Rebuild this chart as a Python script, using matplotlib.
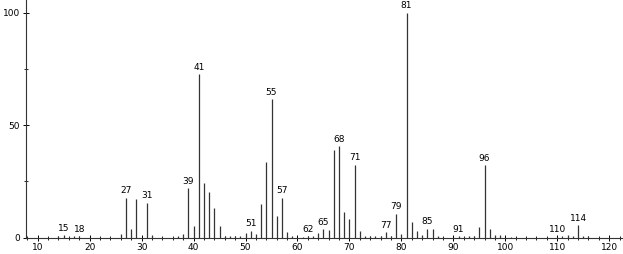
import matplotlib
matplotlib.use("Agg")
import matplotlib.pyplot as plt
from matplotlib.ticker import MultipleLocator

mz = [14, 15, 17, 18, 26, 27, 28, 29, 31, 32, 37, 38, 39, 40, 41, 42, 43, 44, 45,
      46, 47, 48, 49, 50, 51, 52, 53, 54, 55, 56, 57, 58, 59, 61, 62, 63, 64, 65,
      66, 67, 68, 69, 70, 71, 72, 73, 74, 75, 76, 77, 78, 79, 80, 81, 82, 83, 84,
      85, 86, 87, 88, 91, 92, 93, 94, 95, 96, 97, 98, 99, 101, 110, 111, 112,
      113, 114, 115, 116]
intensity = [0.7, 1.0, 0.5, 0.6, 1.5, 17.7, 3.9, 17.0, 15.5, 1.0, 0.5, 1.5, 22.1,
             4.9, 72.7, 24.1, 20.2, 13.0, 5.2,
             0.5, 0.6, 0.5, 0.7, 1.9, 3.1, 1.6, 14.8, 33.6, 61.6, 9.6, 17.7, 2.4,
             0.5, 0.4, 0.7, 0.7, 1.9, 3.7,
             3.3, 38.9, 40.7, 11.3, 8.4, 32.4, 3.0, 0.6, 0.8, 0.5, 0.7, 2.4, 0.8,
             10.6, 1.5, 100.0, 7.1, 2.7, 1.2,
             3.9, 3.9, 0.8, 0.4, 0.7, 0.4, 0.7, 0.8, 4.7, 32.1, 3.6, 1.0, 1.0,
             0.4, 0.4, 0.5, 0.9,
             0.5, 5.6, 0.8, 0.5]
labeled = [15, 18, 27, 31, 39, 41, 51, 55, 57, 62, 65, 68, 71, 77, 79, 81, 85,
           91, 96, 110, 114]
x_ticks = [10, 20, 30, 40, 50, 60, 70, 80, 90, 100, 110, 120]
y_ticks = [0, 50, 100]

plt.rcParams['font.family'] = ['DejaVu Sans']
fig = plt.figure(figsize=(6.23, 2.54), dpi=100)
ax = fig.add_axes([25.7 / 623, 16.5 / 254, (621.7 - 25.7) / 623, 237.5 / 254])

ax.vlines(mz, 0, intensity, colors='#333333', linewidth=0.9)

lookup = dict(zip(mz, intensity))
for m in labeled:
    h = lookup[m]
    ax.text(m, h + 1.0, str(m), ha='center', va='bottom', fontsize=6.5,
            color='black')

ax.set_xlim(7.69, 122.4)
ax.set_ylim(0, 105.6)
ax.set_xticks(x_ticks)
ax.xaxis.set_minor_locator(MultipleLocator(2))
ax.set_yticks(y_ticks)
ax.yaxis.set_minor_locator(MultipleLocator(25))
ax.tick_params(axis='both', which='major', direction='inout', length=4,
               width=0.7, labelsize=6.5, pad=2)
ax.tick_params(axis='both', which='minor', direction='inout', length=3,
               width=0.6)
for s in ['top', 'right']:
    ax.spines[s].set_visible(False)
for s in ['left', 'bottom']:
    ax.spines[s].set_linewidth(0.8)
    ax.spines[s].set_color('#333333')

fig.savefig('out.png', dpi=100)
